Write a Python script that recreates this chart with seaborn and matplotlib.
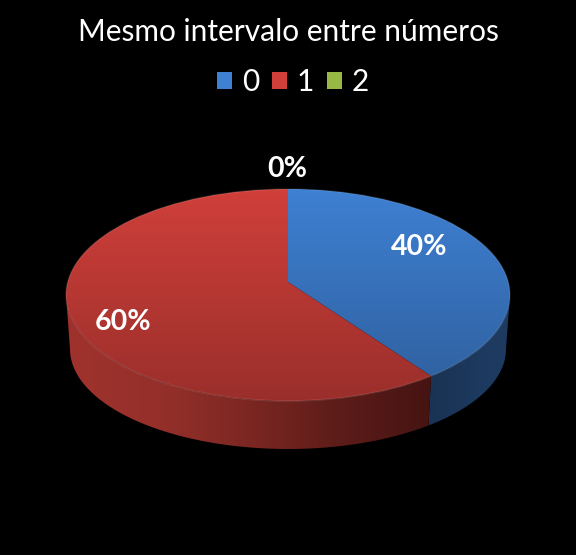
import numpy as np
import seaborn as sns
import matplotlib.pyplot as plt
from matplotlib.colors import LinearSegmentedColormap
from matplotlib.patches import Ellipse, Patch, Polygon

title = "Mesmo intervalo entre números"
categories = ["0", "1", "2"]
shares = [40, 60, 0]
colors = ["#3e80d2", "#d03f3a", "#97b944"]

sns.set_theme(style="white")
plt.rcParams["font.family"] = ["Lato", "DejaVu Sans"]

W, H = 576, 555
fig = plt.figure(figsize=(W / 100, H / 100), dpi=100, facecolor="black")
ax = fig.add_axes([0, 0, 1, 1], facecolor="black")

wedges, _, pct = ax.pie(
    shares, colors=colors, startangle=90, counterclock=False, radius=3,
    autopct="%d%%", pctdistance=0.2,
    textprops={"color": "white", "fontsize": 20.5, "fontweight": "bold"},
    wedgeprops={"linewidth": 0, "zorder": 3},
)

# 1 unit = half the pie width / height, apex of the slices sits above the ellipse centre
ax.set_aspect("auto")
xlim = (-288 / 222, 288 / 222)
ylim = (-(H - 282) / 106, 282 / 106)
cy_top = -13 / 106
cy_bot = -67 / 106
rx_bot = 218 / 222
ry_bot = 100 / 106

top = Ellipse((0, cy_top), 2, 2, transform=ax.transData)
for w in wedges:
    w.set_clip_on(True)  # pie switches this off
    w.set_clip_path(top)

# where the red/blue border meets the rim
th = np.radians(360 * shares[0] / sum(shares))
dx, dy = np.sin(th), np.cos(th)
b = dy * (-cy_top)
t = -b + np.sqrt(b * b - (cy_top ** 2 - 1))
seam = np.arctan2(-np.sqrt(1 - (t * dx) ** 2), t * dx) % (2 * np.pi)


def side(phi0, phi1, cmap_colors):
    phi = np.linspace(phi0, phi1, 200)
    upper = np.c_[np.cos(phi), cy_top + np.sin(phi)]
    lower = np.c_[rx_bot * np.cos(phi), cy_bot + ry_bot * np.sin(phi)]
    pts = np.r_[upper, lower[::-1]]
    poly = Polygon(pts, closed=True, facecolor="none", edgecolor="none", transform=ax.transData)
    ax.add_patch(poly)
    cmap = LinearSegmentedColormap.from_list("s", sns.blend_palette(cmap_colors, 8))
    im = ax.imshow(np.linspace(0, 1, 256)[None, :], cmap=cmap, aspect="auto", zorder=2,
                   extent=(pts[:, 0].min(), pts[:, 0].max(), cy_bot - 1, cy_top + 0.2))
    im.set_clip_path(poly)


side(seam, 2 * np.pi, ["#1a3354", "#1b3659", "#1d3a60", "#1e3a60"])
side(np.pi, seam, ["#a0322d", "#96302a", "#7c2722", "#5c1c19", "#451412"])

# darkening over the top face
shade = np.zeros((256, 1, 4))
shade[:, 0, 3] = np.linspace(0.0, 0.26, 256)
im = ax.imshow(shade, aspect="auto", zorder=4, extent=(-1, 1, cy_top - 1, cy_top + 1))
im.set_clip_path(top)

rim = Ellipse((0, cy_top), 2, 2, fill=False, edgecolor="#ffffff", alpha=0.10, linewidth=1.2, zorder=5)
ax.add_patch(rim)

ax.set_xlim(*xlim)
ax.set_ylim(*ylim)
ax.axis("off")

# percent labels
label_px = [(419, 247), (123, 322), (287, 169)]
for txt, (px, py) in zip(pct, label_px):
    txt.set_position(((px - 288) / 222, (282 - py) / 106))
    txt.set_ha("center")
    txt.set_va("center")
    txt.set_zorder(6)

fig.text(288 / W, 1 - 32 / H, title, color="white", fontsize=21.5, ha="center", va="center")

handles = [Patch(facecolor=c, edgecolor="none", label=n) for c, n in zip(colors, categories)]
fig.legend(handles=handles, ncols=3, loc="center", bbox_to_anchor=(293 / W, 1 - 82 / H),
           frameon=False, labelcolor="white", fontsize=21.5, handlelength=0.52, handleheight=0.52,
           handletextpad=0.32, columnspacing=0.42)

fig.savefig("out.png", dpi=100, facecolor="black")
